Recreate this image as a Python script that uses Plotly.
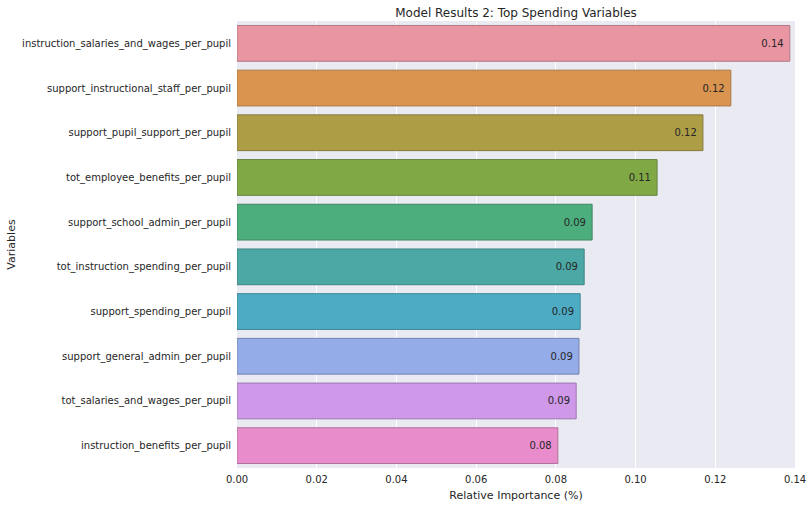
import plotly.graph_objects as go

variables = [
    "instruction_salaries_and_wages_per_pupil",
    "support_instructional_staff_per_pupil",
    "support_pupil_support_per_pupil",
    "tot_employee_benefits_per_pupil",
    "support_school_admin_per_pupil",
    "tot_instruction_spending_per_pupil",
    "support_spending_per_pupil",
    "support_general_admin_per_pupil",
    "tot_salaries_and_wages_per_pupil",
    "instruction_benefits_per_pupil",
]
importance = [0.1387, 0.1239, 0.1169, 0.1054, 0.0891, 0.0871, 0.0861, 0.0858, 0.0851, 0.0805]
bar_colors = ["#EA96A2", "#D9944F", "#AD9E45", "#80A945", "#4CAE7D",
              "#4BA8A5", "#4DACC4", "#94ACE8", "#CF98E8", "#E98CCC"]
line_colors = ["#B07880", "#A87848", "#857A40", "#668340", "#3F8763",
               "#3E8380", "#3F8598", "#7485B0", "#9C78B0", "#B0709C"]
x_ticks = [0.0, 0.02, 0.04, 0.06, 0.08, 0.10, 0.12, 0.14]

fig = go.Figure(go.Bar(
    x=importance,
    y=variables,
    orientation="h",
    marker=dict(color=bar_colors, line=dict(color=line_colors, width=1)),
    width=0.8,
    text=[f"{v:.2f}\u00a0" for v in importance],
    textposition="inside",
    insidetextanchor="end",
    textfont=dict(family="DejaVu Sans", size=10, color="#262626"),
    hoverinfo="x+y",
))

fig.update_layout(
    width=812, height=507,
    margin=dict(l=237, r=17, t=21, b=39),
    paper_bgcolor="white",
    plot_bgcolor="#EAEAF2",
    font=dict(family="DejaVu Sans", size=10, color="#262626"),
    title=dict(text="Model Results 2: Top Spending Variables", xref="paper", x=0.5,
               xanchor="center", yref="container", y=1 - 13 / 507, yanchor="middle",
               font=dict(size=12, color="#262626")),
    showlegend=False,
    bargap=0.2,
)
fig.update_xaxes(
    range=[0, 0.14], tickvals=x_ticks, ticktext=[f"{t:.2f}" for t in x_ticks],
    showgrid=True, gridcolor="white", gridwidth=1, zeroline=False,
    showline=False, ticks="", ticklabelstandoff=4, automargin=False,
    title=dict(text="Relative Importance (%)", standoff=7, font=dict(size=11)),
    tickfont=dict(size=10),
)
fig.update_yaxes(
    categoryorder="array", categoryarray=variables,
    range=[9.5, -0.5],
    showgrid=False, zeroline=False, showline=False, ticks="",
    ticklabelstandoff=5, automargin=False,
    title=dict(text="Variables", standoff=4, font=dict(size=11)),
    tickfont=dict(size=10),
)

fig.write_html("out.html", config={"displayModeBar": False},
               post_script="document.body.style.margin='0';")
